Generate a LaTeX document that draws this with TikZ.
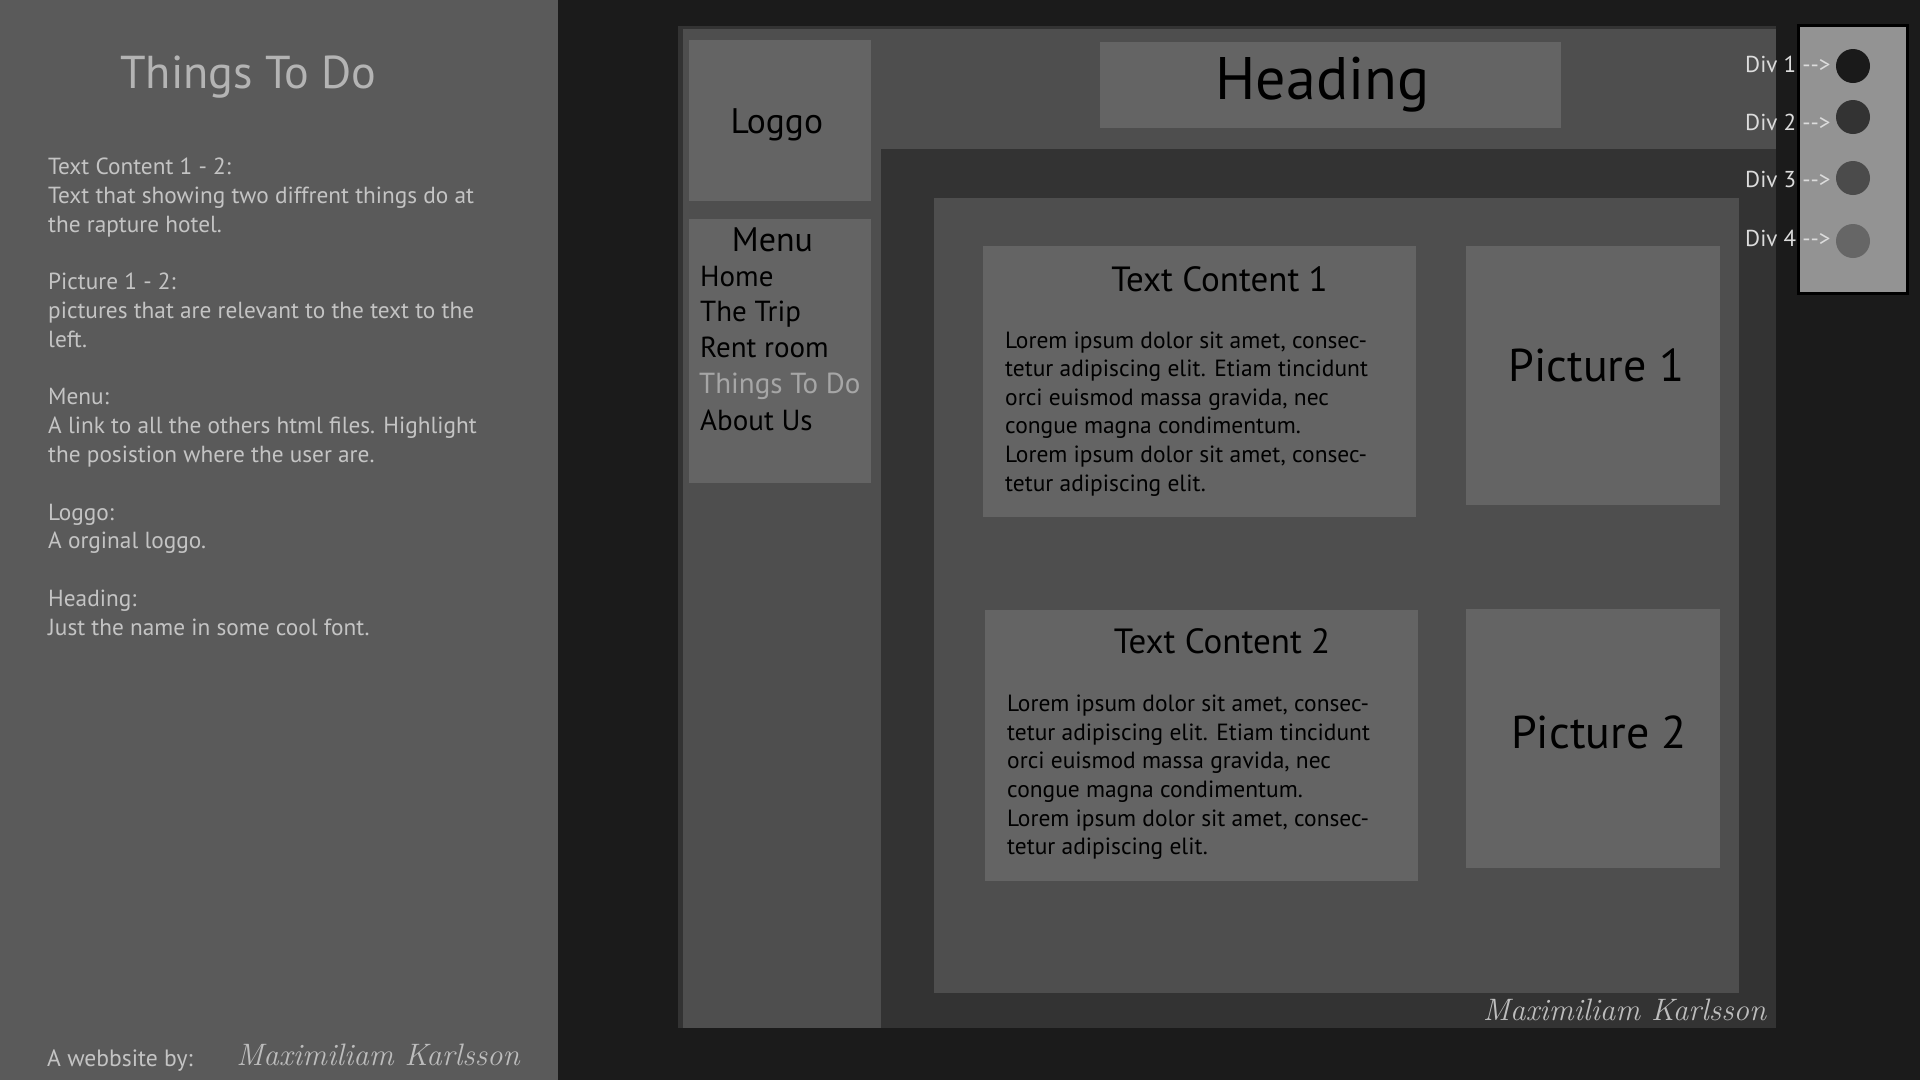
\documentclass[tikz,border=0pt]{standalone}
\usepackage{fontspec}
\newfontfamily\uifont{PT Sans}
\definecolor{bgc}{HTML}{1B1B1B}
\definecolor{sidec}{HTML}{5A5A5A}
\definecolor{framec}{HTML}{333333}
\definecolor{panelc}{HTML}{4E4E4E}
\definecolor{boxc}{HTML}{646464}
\definecolor{darkc}{HTML}{333333}
\definecolor{divpc}{HTML}{939393}
\definecolor{notec}{HTML}{C4C4C4}
\definecolor{titlec}{HTML}{B4B4B4}
\definecolor{hic}{HTML}{A6A6A6}
\definecolor{divtc}{HTML}{DCDCDC}
\definecolor{signc}{HTML}{BDBDBD}
\definecolor{dotA}{HTML}{1A1A1A}
\definecolor{dotB}{HTML}{333333}
\definecolor{dotC}{HTML}{4B4B4B}
\definecolor{dotD}{HTML}{666666}
\newcommand{\fs}[2]{\uifont\fontsize{#1}{#2}\selectfont}
\begin{document}
\begin{tikzpicture}[x=1pt,y=-1pt,
  txt/.style={inner sep=0pt,anchor=base west},
  ctxt/.style={inner sep=0pt,anchor=base},
  note/.style={txt,text=notec,font=\fs{23.3}{28.8}},
  menuitem/.style={txt,text=black,font=\fs{29}{34}},
  lorem/.style={txt,text=black,font=\fs{23.45}{28.7}},
  boxtitle/.style={ctxt,text=black,font=\fs{35}{40}},
  pictitle/.style={ctxt,text=black,font=\fs{46}{50}},
  divlabel/.style={txt,text=divtc,font=\fs{23}{26}},
  sign/.style={inner sep=0pt,anchor=base,text=signc,font=\rmfamily\itshape}]
\useasboundingbox (0,0) rectangle (1920,1080);

% background and side panel
\fill[bgc] (0,0) rectangle (1920,1080);
\fill[sidec] (0,0) rectangle (558,1080);

% page frame and body
\fill[framec] (678,26) rectangle (1776,1028);
\fill[panelc] (683,29) rectangle (1776,1028);
\fill[darkc] (881,149) rectangle (1776,1028);
\fill[panelc] (934,198) rectangle (1739,993);

% header blocks
\fill[boxc] (689,40) rectangle (871,201);
\fill[boxc] (689,219) rectangle (871,483);
\fill[boxc] (1100,42) rectangle (1561,128);

% content blocks
\fill[boxc] (983,246) rectangle (1416,517);
\fill[boxc] (1466,246) rectangle (1720,505);
\fill[boxc] (985,610) rectangle (1418,881);
\fill[boxc] (1466,609) rectangle (1720,868);

% side notes
\node[ctxt,text=titlec,font=\fs{46.1}{52}] (title) at (248.5,88.4) {Things To Do};
\foreach \t/\yy [count=\i] in {
  {Text Content 1 - 2:}/174.5,
  {Text that showing two diffrent things do at}/203.3,
  {the rapture hotel.}/232.1,
  {Picture 1 - 2:}/289.7,
  {pictures that are relevant to the text to the}/318.5,
  {left.}/347.3,
  {Menu:}/404.9,
  {A link to all the others html files. Highlight}/433.7,
  {the posistion where the user are.}/462.5,
  {Loggo:}/520.1,
  {A orginal loggo.}/548.9,
  {Heading:}/606.5,
  {Just the name in some cool font.}/635.3}
  \node[note] (note\i) at (48,\yy) {\t};
\node[note,font=\fs{23.6}{30}] (byline) at (47,1066.5) {A webbsite by:};
\node[sign,font=\rmfamily\itshape\fontsize{31}{34}\selectfont] (signA) at (378,1065) {Maximiliam Karlsson};

% page header texts
\node[ctxt,text=black,font=\fs{35.5}{40}] (logo) at (776.8,133.3) {Loggo};
\node[ctxt,text=black,font=\fs{34}{40}] (menu) at (772.5,251) {Menu};
\node[menuitem] (m1) at (700,286) {Home};
\node[menuitem] (m2) at (700,321.7) {The Trip};
\node[menuitem] (m3) at (700,357.7) {Rent room};
\node[menuitem,text=hic] (m4) at (699,393.3) {Things To Do};
\node[menuitem] (m5) at (700,430) {About Us};
\node[ctxt,text=black,font=\fs{60}{66}] (heading) at (1322.6,99) {Heading};

% content texts
\def\loremlines{{Lorem ipsum dolor sit amet, consec-},{tetur adipiscing elit. Etiam tincidunt},{orci euismod massa gravida, nec},{congue magna condimentum.},{Lorem ipsum dolor sit amet, consec-},{tetur adipiscing elit.}}
\node[boxtitle] (tcA) at (1219.5,291) {Text Content 1};
\foreach \t [count=\i] in \loremlines
  \node[lorem] (loremA\i) at (1005,{348+(\i-1)*28.6}) {\t};
\node[boxtitle] (tcB) at (1222,653) {Text Content 2};
\foreach \t [count=\i] in \loremlines
  \node[lorem] (loremB\i) at (1007,{711.7+(\i-1)*28.6}) {\t};
\node[pictitle] (picA) at (1596.5,381) {Picture 1};
\node[pictitle] (picB) at (1599,748) {Picture 2};
\node[sign,font=\rmfamily\itshape\fontsize{31}{34}\selectfont] (signB) at (1624.5,1020) {Maximiliam Karlsson};

% layer legend
\filldraw[fill=divpc,draw=black,line width=3pt] (1798.5,25.5) rectangle (1907.5,293.5);
\foreach \c/\yy/\ty [count=\i] in {dotA/66/72.7, dotB/117/130.7, dotC/178/187.7, dotD/241/246} {
  \fill[\c] (1853,\yy) circle (17);
  \node[divlabel] (div\i) at (1745,\ty) {Div \i\ -{}->};
}
\end{tikzpicture}
\end{document}
